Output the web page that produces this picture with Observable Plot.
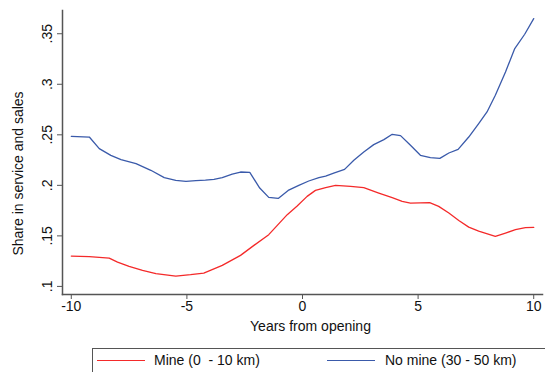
<!DOCTYPE html>
<html>
<head>
<meta charset="utf-8">
<script src="https://cdn.jsdelivr.net/npm/d3@7"></script>
<script src="https://cdn.jsdelivr.net/npm/@observablehq/plot@0.6"></script>
<style>
  html, body { margin: 0; padding: 0; background: #fff; overflow: hidden; }
  body { width: 545px; height: 372px; font-family: "Liberation Sans", Arial, sans-serif; }
  #legend { position: relative; margin-left: 92px; margin-top: 3px; width: 470px; height: 30px; border: 1px solid #555; box-sizing: border-box; }
  .sw { position: absolute; top: 11px; height: 0; border-top: 1.3px solid; }
  .lt { position: absolute; top: 3px; font-size: 14px; white-space: pre; color: #111; }
</style>
</head>
<body>
<div id="chart"></div>
<div id="legend"></div>
<script>
const seriesNames = ["Mine (0  - 10 km)", "No mine (30 - 50 km)"];
const seriesColors = ["#f42a2a", "#3a5aaa"];

const mineYears = [-10, -9.22, -8.36, -8.0, -7.5, -6.92, -6.34, -5.48, -4.84, -4.27, -3.47, -2.68, -2.1, -1.46, -1.09, -0.66, -0.23, 0.2, 0.56, 1.0, 1.43, 2.08, 2.65, 3.3, 3.88, 4.31, 4.67, 5.5, 5.89, 6.33, 6.76, 7.19, 7.62, 8.34, 8.78, 9.21, 9.64, 10];
const mineShare = [.13, .1294, .128, .124, .1198, .1158, .1126, .1102, .1116, .1132, .1208, .1307, .1406, .1512, .1604, .171, .1795, .1891, .195, .1977, .2, .199, .1977, .1924, .1878, .1842, .1825, .1829, .1792, .1726, .1653, .1587, .1548, .1495, .1528, .1561, .1581, .1584];

const noMineYears = [-10, -9.22, -8.79, -8.29, -7.85, -7.2, -6.56, -5.98, -5.48, -5.04, -4.61, -4.2, -3.83, -3.47, -3.04, -2.68, -2.28, -1.85, -1.46, -1.05, -0.62, -0.16, 0.27, 0.71, 1.0, 1.35, 1.82, 2.22, 2.65, 3.08, 3.52, 3.88, 4.24, 4.67, 5.10, 5.53, 5.94, 6.33, 6.73, 7.19, 7.62, 7.98, 8.34, 8.78, 9.18, 9.61, 10];
const noMineShare = [.2485, .2478, .2363, .2297, .2254, .2215, .2149, .2076, .205, .204, .2046, .2052, .206, .2076, .211, .2132, .2129, .1973, .1881, .1871, .195, .2, .2043, .2076, .2092, .2122, .2158, .2248, .233, .2403, .2452, .2505, .2492, .2396, .2297, .2274, .2267, .232, .2356, .2478, .2611, .2726, .2891, .3122, .3353, .3495, .365];

const xTicks = [-10, -5, 0, 5, 10];
const xTickLabels = ["-10", "-5", "0", "5", "10"];
const yTicks = [0.1, 0.15, 0.2, 0.25, 0.3, 0.35];
const yTickLabels = [".1", ".15", ".2", ".25", ".3", ".35"];
const xTitle = "Years from opening";
const yTitle = "Share in service and sales";

const mine = mineYears.map((x, i) => ({x, y: mineShare[i]}));
const noMine = noMineYears.map((x, i) => ({x, y: noMineShare[i]}));

const axisColor = "#555";
const chart = Plot.plot({
  width: 545,
  height: 345,
  marginLeft: 62,
  marginRight: 3,
  marginTop: 10,
  marginBottom: 51,
  style: {fontFamily: "Liberation Sans, Arial, sans-serif", fontSize: "14px", color: "#111", background: "#fff"},
  x: {domain: [-10.38, 10.38]},
  y: {domain: [0.092, 0.373]},
  marks: [
    Plot.frame({anchor: "left", stroke: axisColor, strokeWidth: 1.5}),
    Plot.frame({anchor: "bottom", stroke: axisColor, strokeWidth: 1.5}),
    Plot.axisX({ticks: xTicks, tickFormat: (d, i) => xTickLabels[i], tickSize: 5, tickPadding: 2, stroke: axisColor, fill: "#111", label: null, fontSize: 14}),
    Plot.axisY({ticks: yTicks, tickFormat: (d, i) => yTickLabels[i], tickSize: 5, tickPadding: 6, tickRotate: -90, textAnchor: "middle", lineAnchor: "bottom", stroke: axisColor, fill: "#111", label: null, fontSize: 14}),
    Plot.text([xTitle], {frameAnchor: "bottom", textAnchor: "middle", dx: 8, dy: 36, fontSize: 14, fill: "#111"}),
    Plot.text([yTitle], {frameAnchor: "left", textAnchor: "middle", rotate: -90, dx: -44, dy: 21, fontSize: 14, fill: "#111"}),
    Plot.line(mine, {x: "x", y: "y", stroke: seriesColors[0], strokeWidth: 1.3}),
    Plot.line(noMine, {x: "x", y: "y", stroke: seriesColors[1], strokeWidth: 1.3})
  ]
});
document.getElementById("chart").append(chart);

const legend = document.getElementById("legend");
const swLeft = [4, 234];
const txtLeft = [61, 292];
seriesNames.forEach((name, i) => {
  const sw = document.createElement("div");
  sw.className = "sw";
  sw.style.left = swLeft[i] + "px";
  sw.style.width = "48px";
  sw.style.borderTopColor = seriesColors[i];
  legend.append(sw);
  const t = document.createElement("div");
  t.className = "lt";
  t.style.left = txtLeft[i] + "px";
  t.textContent = name;
  legend.append(t);
});
</script>
</body>
</html>
